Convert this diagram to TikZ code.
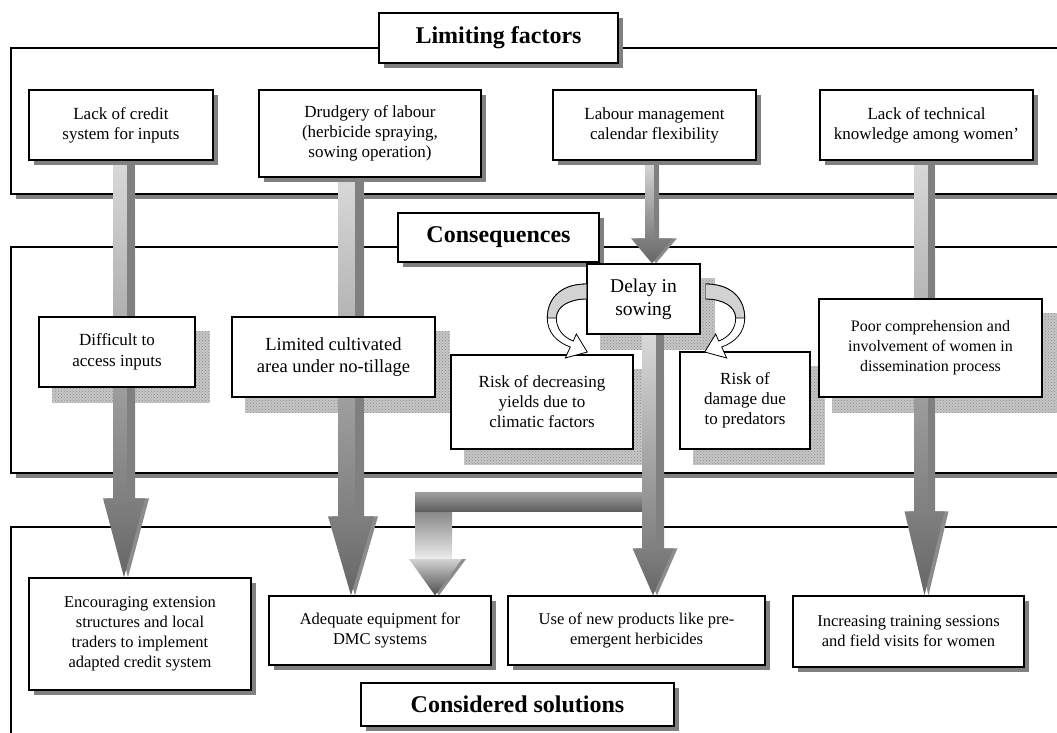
\documentclass[tikz,border=0pt]{standalone}
\usepackage{fontspec}
\setmainfont{Liberation Serif}
\usetikzlibrary{calc, shadows, patterns}

\pgfdeclarelayer{back}
\pgfdeclarelayer{mid}
\pgfsetlayers{back,mid,main}

\tikzset{
  panel/.style = {draw, line width=1.6pt, fill=white,
    general shadow={fill=gray, shadow xshift=5pt, shadow yshift=-5pt}},
  box/.style = {draw, line width=1.4pt, fill=white, align=center, inner sep=2pt,
    general shadow={fill=gray, shadow xshift=5pt, shadow yshift=-5pt}},
  title/.style = {box, font=\bfseries\fontsize{24}{28}\selectfont},
  factor/.style = {box, font=\fontsize{17}{20}\selectfont},
  solution/.style = {box, font=\fontsize{16.5}{20}\selectfont},
  effect/.style = {draw, line width=1.4pt, fill=white, align=center, inner sep=2pt},
  stipple/.style = {fill=gray!45, postaction={pattern=crosshatch dots, pattern color=gray!90}},
}

% x, from node, to node, shaft half width, head half width, head length
\newcommand{\fatarrow}[6]{%
  \coordinate (fa-s) at (#1,0 |- #2.south);
  \coordinate (fa-t) at (#1,0 |- #3.north);
  \coordinate (fa-b) at ($(fa-t)+(0,-#6)$);
  \shade[top color=gray!30, bottom color=gray] ($(fa-s)+(-#4,0)$) rectangle ($(fa-b)+(#4,0)$);
  \fill[gray] ($(fa-s)+(0.3*#4,0)$) rectangle ($(fa-b)+(#4,0)$);
  \fill[gray!90] ($(fa-b)+(4-#5,0)$) -- ($(fa-b)+(4+#5,0)$) -- ($(fa-t)+(4,0)$) -- cycle;
  \shade[top color=gray, bottom color=gray!80!black] ($(fa-b)+(-#5,0)$) -- ($(fa-b)+(#5,0)$) -- (fa-t) -- cycle;
}

% curled arrow, drawn from the origin of the current scope
\newcommand{\curlarrow}{%
  \filldraw[fill=white, line width=0.8pt] (0,-15) .. controls (-28,-15) and (-39,2) .. (-39,19)
    .. controls (-39,33) and (-30,43) .. (-16,48) -- (-21,59) -- (1,53) -- (-10,35) -- (-13,42)
    .. controls (-24,38) and (-30,29) .. (-30,19) .. controls (-30,8) and (-18,0) .. (0,0) -- cycle;
  \filldraw[fill=gray!35, line width=0.8pt] (0,-15) .. controls (-28,-15) and (-39,2) .. (-39,19)
    -- (-30,19) .. controls (-30,8) and (-18,0) .. (0,0);
}

\begin{document}
\begin{tikzpicture}[x=1pt, y=-1pt]
  \useasboundingbox (0,0) rectangle (1057,732);

  % panels
  \begin{pgfonlayer}{back}
    \draw[panel] (11,48) rectangle (1080,194);
    \draw[panel] (11,247) rectangle (1080,473);
    \draw[panel] (11,527) rectangle (1080,780);
  \end{pgfonlayer}

  % titles
  \node[title, minimum width=239, minimum height=50] (limt) at (498.5,38) {Limiting factors};
  \node[title, minimum width=201, minimum height=49] (cont) at (498.5,237.5) {Consequences};
  \node[title, minimum width=313, minimum height=43] (solt) at (517.5,704.5) {Considered solutions};

  % limiting factors
  \node[factor, minimum width=184, minimum height=70] (credit) at (121,125) {Lack of credit\\system for inputs};
  \node[factor, minimum width=222, minimum height=87] (drudgery) at (370,133.5) {Drudgery of labour\\(herbicide spraying,\\sowing operation)};
  \node[factor, minimum width=203, minimum height=70] (labour) at (654.5,125) {Labour management\\calendar flexibility};
  \node[factor, minimum width=213, minimum height=70] (knowledge) at (926.5,125) {Lack of technical\\knowledge among women’};

  % consequences
  \node[effect, font=\fontsize{17}{21}\selectfont, minimum width=156, minimum height=70] (access) at (117,352) {Difficult to\\access inputs};
  \node[effect, font=\fontsize{18.5}{22}\selectfont, minimum width=203, minimum height=80] (area) at (333.5,357) {Limited cultivated\\area under no-tillage};
  \node[effect, font=\fontsize{19.5}{23}\selectfont, minimum width=113, minimum height=70] (delay) at (643.5,299) {Delay in\\sowing};
  \node[effect, font=\fontsize{17}{20}\selectfont, minimum width=182, minimum height=94] (yields) at (542,402) {Risk of decreasing\\yields due to\\climatic factors};
  \node[effect, font=\fontsize{17}{20}\selectfont, minimum width=130, minimum height=97] (predators) at (745,400.5) {Risk of\\damage due\\to predators};
  \node[effect, font=\fontsize{16}{20}\selectfont, minimum width=223, minimum height=98] (women) at (930.5,348) {Poor comprehension and\\involvement of women in\\dissemination process};

  % solutions
  \node[solution, minimum width=222, minimum height=112] (extension) at (140,634) {Encouraging extension\\structures and local\\traders to implement\\adapted credit system};
  \node[solution, minimum width=222, minimum height=69] (equipment) at (380,630.5) {Adequate equipment for\\DMC systems};
  \node[solution, minimum width=257, minimum height=69] (products) at (636.5,630.5) {Use of new products like pre-\\emergent herbicides};
  \node[solution, minimum width=231, minimum height=71] (training) at (908.5,631.5) {Increasing training sessions\\and field visits for women};

  % shadows of the consequences
  \begin{pgfonlayer}{back}
    \foreach \n in {access, area, delay, yields, predators, women}
      \fill[stipple] ($(\n.south west)+(14,15)$) rectangle ($(\n.north east)+(14,15)$);
  \end{pgfonlayer}

  % arrows
  \begin{pgfonlayer}{mid}
    \coordinate (bend-tip) at (435,0 |- equipment.north);
    \shade[top color=gray!75!black, bottom color=gray!15] (415,492) rectangle (452,559);
    \shade[top color=gray!75, bottom color=gray!75!black] (415,492) rectangle (650,511);
    \fill[gray!90] (413,559) -- (466,559) -- ($(bend-tip)+(4,0)$) -- cycle;
    \shade[top color=gray!35, bottom color=gray!60!black] (409,559) -- (462,559) -- (bend-tip) -- cycle;

    \fatarrow{124}{credit}{extension}{11}{21}{79}
    \fatarrow{351}{drudgery}{equipment}{13}{23}{79}
    \fatarrow{652}{labour}{delay}{7}{21}{25}
    \fatarrow{653}{delay}{products}{11}{20.5}{47}
    \fatarrow{924.5}{knowledge}{training}{10.5}{20}{84}
  \end{pgfonlayer}

  \begin{scope}[shift={(delay.west)}]
    \curlarrow
  \end{scope}
  \begin{scope}[shift={($(delay.east)+(5,0)$)}, xscale=-1]
    \curlarrow
  \end{scope}
\end{tikzpicture}
\end{document}
